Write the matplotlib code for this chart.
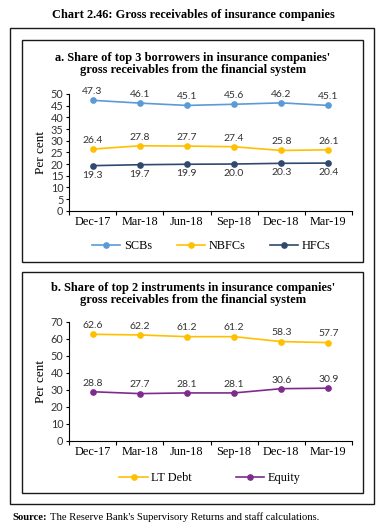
import matplotlib
matplotlib.use('Agg')
import matplotlib.pyplot as plt
from matplotlib.patches import Rectangle

# data
quarters = ['Dec-17', 'Mar-18', 'Jun-18', 'Sep-18', 'Dec-18', 'Mar-19']
scbs = [47.3, 46.1, 45.1, 45.6, 46.2, 45.1]
nbfcs = [26.4, 27.8, 27.7, 27.4, 25.8, 26.1]
hfcs = [19.3, 19.7, 19.9, 20.0, 20.3, 20.4]
lt_debt = [62.6, 62.2, 61.2, 61.2, 58.3, 57.7]
equity = [28.8, 27.7, 28.1, 28.1, 30.6, 30.9]

W, H = 386, 530
SERIF = 'Liberation Serif'
SANS = 'Lato'

fig = plt.figure(figsize=(W / 100, H / 100), dpi=100)


def box(x0, y0, x1, y1):
    # pixel coords (top-left origin) -> figure fraction rectangle
    fig.add_artist(Rectangle((x0 / W, 1 - y1 / H), (x1 - x0) / W, (y1 - y0) / H,
                             transform=fig.transFigure, fill=False,
                             edgecolor='#1a1a1a', linewidth=1.0))


def make_axes(ytop, ybot):
    left, right = 69, 352
    return fig.add_axes([left / W, 1 - ybot / H, (right - left) / W, (ybot - ytop) / H])


def style_axes(ax, ymax, step):
    x = range(len(quarters))
    ax.set_xlim(-0.5, len(quarters) - 0.5)
    ax.set_ylim(0, ymax)
    ax.set_yticks(range(0, ymax + 1, step))
    ax.set_xticks(list(x))
    ax.set_xticklabels(quarters, fontfamily=SERIF, fontsize=8.8)
    ax.set_xticks([i - 0.5 for i in range(len(quarters) + 1)], minor=True)
    ax.tick_params(axis='x', which='major', length=0, pad=4)
    ax.tick_params(axis='x', which='minor', length=3, width=0.8, direction='out')
    ax.tick_params(axis='y', length=2.5, width=0.8, pad=1.5, labelsize=7.8)
    for lab in ax.get_yticklabels():
        lab.set_fontfamily(SANS)
        lab.set_color('#333333')
    for s in ['top', 'right']:
        ax.spines[s].set_visible(False)
    for s in ['left', 'bottom']:
        ax.spines[s].set_linewidth(0.8)
    ax.set_ylabel('Per cent', fontfamily=SERIF, fontsize=9.5, labelpad=3)
    ax.patch.set_alpha(0)


def series(ax, vals, color, label, above=True):
    x = range(len(vals))
    ax.plot(x, vals, color=color, linewidth=1.2, marker='o', markersize=3.8,
            label=label, clip_on=False)
    for xi, v in zip(x, vals):
        ax.annotate(f'{v:.1f}', (xi, v), textcoords='offset points',
                    xytext=(0, 3 if above else -3.5), ha='center',
                    va='bottom' if above else 'top', fontsize=7.5,
                    fontfamily=SANS, color='#333333')


# boxes
box(10, 28, 374, 504)
box(22, 40, 363, 262)
box(22, 272, 363, 493)

fig.text(0.5, 1 - 15 / H, 'Chart 2.46: Gross receivables of insurance companies',
         ha='center', va='center', fontfamily=SERIF, fontweight='bold', fontsize=8.9)

# panel a
fig.text(0.5, 1 - 57.5 / H, "a. Share of top 3 borrowers in insurance companies'",
         ha='center', va='center', fontfamily=SERIF, fontweight='bold', fontsize=8.9)
fig.text(0.5, 1 - 70.5 / H, 'gross receivables from the financial system',
         ha='center', va='center', fontfamily=SERIF, fontweight='bold', fontsize=8.9)
ax1 = make_axes(94, 210.7)
series(ax1, scbs, '#5B9BD5', 'SCBs', above=True)
series(ax1, nbfcs, '#FFC000', 'NBFCs', above=True)
series(ax1, hfcs, '#2F4A6D', 'HFCs', above=False)
style_axes(ax1, 50, 5)
fig.legend(*ax1.get_legend_handles_labels(), loc='center',
           bbox_to_anchor=(0.547, 1 - 246 / H), ncol=3, frameon=False,
           prop={'family': SERIF, 'size': 8.8}, handlelength=2.3,
           handletextpad=0.3, columnspacing=2.0)

# panel b
fig.text(0.5, 1 - 287.5 / H, "b. Share of top 2 instruments in insurance companies'",
         ha='center', va='center', fontfamily=SERIF, fontweight='bold', fontsize=8.9)
fig.text(0.5, 1 - 300.5 / H, 'gross receivables from the financial system',
         ha='center', va='center', fontfamily=SERIF, fontweight='bold', fontsize=8.9)
ax2 = make_axes(321.7, 440.7)
series(ax2, lt_debt, '#FFC000', 'LT Debt', above=True)
series(ax2, equity, '#7E2C8C', 'Equity', above=True)
style_axes(ax2, 70, 10)
fig.legend(*ax2.get_legend_handles_labels(), loc='center',
           bbox_to_anchor=(0.544, 1 - 478 / H), ncol=2, frameon=False,
           prop={'family': SERIF, 'size': 8.8}, handlelength=2.3,
           handletextpad=0.3, columnspacing=3.6)

# source note
fig.text(12 / W, 1 - 517 / H, 'Source:', ha='left', va='center',
         fontfamily=SERIF, fontweight='bold', fontsize=7.7)
fig.text(50 / W, 1 - 517 / H,
         "The Reserve Bank's Supervisory Returns and staff calculations.",
         ha='left', va='center', fontfamily=SERIF, fontsize=7.7)

fig.savefig('out.png', dpi=100)
